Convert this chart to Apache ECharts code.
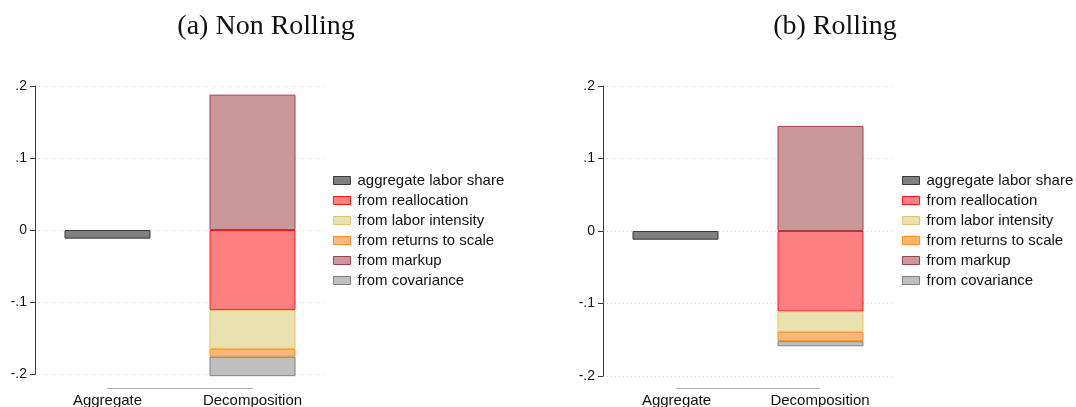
<!DOCTYPE html>
<html>
<head>
<meta charset="utf-8">
<script src="https://cdn.jsdelivr.net/npm/echarts@6/dist/echarts.min.js"></script>
<style>
html,body{margin:0;padding:0;background:#fff;}
#c{width:1076px;height:407px;}
</style>
</head>
<body>
<div id="c"></div>
<script>
// ---- data ----
var categories = ['Aggregate', 'Decomposition'];
var seriesNames = ['aggregate labor share', 'from reallocation', 'from labor intensity', 'from returns to scale', 'from markup', 'from covariance'];
var yTickValues = [-0.2, -0.1, 0, 0.1, 0.2];
var yTickLabels = ['-.2', '-.1', '0', '.1', '.2'];
var titles = ['(a) Non Rolling', '(b) Rolling'];

// Non Rolling panel
var nrAggregate = -0.012;
var nrReallocation = -0.111;
var nrLaborIntensity = -0.054;
var nrReturnsToScale = -0.011;
var nrMarkup = 0.188;
var nrCovariance = -0.027;

// Rolling panel
var rAggregate = -0.012;
var rReallocation = -0.111;
var rLaborIntensity = -0.028;
var rReturnsToScale = -0.013;
var rMarkup = 0.145;
var rCovariance = -0.007;

// ---- styles ----
var fills = ['#808080', '#ff8080', '#eae1b1', '#ffb877', '#c8989b', '#bfbfbf'];
var borders = ['#3a3a3a', '#ff1a1a', '#e2c56a', '#ff8c1a', '#a3404b', '#808080'];

function fmtY(v) {
  for (var i = 0; i < yTickValues.length; i++) {
    if (Math.abs(yTickValues[i] - v) < 1e-9) return yTickLabels[i];
  }
  return '';
}

var panels = [
  {vals: [nrAggregate, nrReallocation, nrLaborIntensity, nrReturnsToScale, nrMarkup, nrCovariance],
   grid: {left: 35, top: 86, width: 290, height: 288},
   axisGrid: {left: 107.5, top: 388, width: 145, height: 1},
   legendLeft: 333, titleX: 261},
  {vals: [rAggregate, rReallocation, rLaborIntensity, rReturnsToScale, rMarkup, rCovariance],
   grid: {left: 603, top: 86, width: 290, height: 290},
   axisGrid: {left: 676.5, top: 388, width: 143.5, height: 1},
   legendLeft: 902, titleX: 830}
];

var option = {
  animation: false,
  backgroundColor: '#fff',
  title: [], grid: [], xAxis: [], yAxis: [], series: [], legend: []
};

panels.forEach(function (p, pi) {
  var g = pi * 2;
  option.title.push({
    text: titles[pi], left: p.titleX, top: 8, textAlign: 'center',
    textStyle: {fontFamily: 'Liberation Serif', fontSize: 28, fontWeight: 'normal', color: '#111'}
  });
  option.grid.push(p.grid);
  option.grid.push(p.axisGrid);
  option.xAxis.push({
    gridIndex: g, type: 'category', data: categories, show: false
  });
  option.xAxis.push({
    gridIndex: g + 1, type: 'category', data: categories, boundaryGap: false,
    position: 'bottom',
    axisLine: {show: true, lineStyle: {color: '#b0b0b0', width: 1}},
    axisTick: {show: false},
    axisLabel: {interval: 0, margin: 5, fontFamily: 'Liberation Sans', fontSize: 15, color: '#111'},
    splitLine: {show: false}
  });
  option.yAxis.push({
    gridIndex: g, type: 'value', min: -0.2, max: 0.2, interval: 0.1,
    axisLine: {show: true, lineStyle: {color: '#3a3a3a', width: 1}},
    axisTick: {show: true, length: 5, lineStyle: {color: '#3a3a3a'}},
    axisLabel: {formatter: fmtY, margin: 8, fontFamily: 'Liberation Sans', fontSize: 14, color: '#111'},
    splitLine: {show: true, lineStyle: {color: '#d0d0d0', type: [1, 3], width: 1}}
  });
  option.yAxis.push({gridIndex: g + 1, type: 'value', show: false});

  seriesNames.forEach(function (name, si) {
    var data = si === 0 ? [p.vals[0], '-'] : ['-', p.vals[si]];
    option.series.push({
      name: name, type: 'bar', xAxisIndex: g, yAxisIndex: g,
      stack: 'panel' + pi, barWidth: 86, clip: false, data: data,
      itemStyle: {color: fills[si], borderColor: borders[si], borderWidth: 1},
      emphasis: {disabled: true}
    });
  });

  option.legend.push({
    orient: 'vertical', left: p.legendLeft, top: 173, padding: 0, itemWidth: 17, itemHeight: 8,
    itemGap: 5, icon: 'rect', selectedMode: false, data: seriesNames,
    itemStyle: {borderWidth: 1},
    textStyle: {fontFamily: 'Liberation Sans', fontSize: 15, color: '#111', padding: [0, 0, 0, 2]}
  });
});

var chart = echarts.init(document.getElementById('c'), null, {renderer: 'canvas'});
chart.setOption(option);
</script>
</body>
</html>
